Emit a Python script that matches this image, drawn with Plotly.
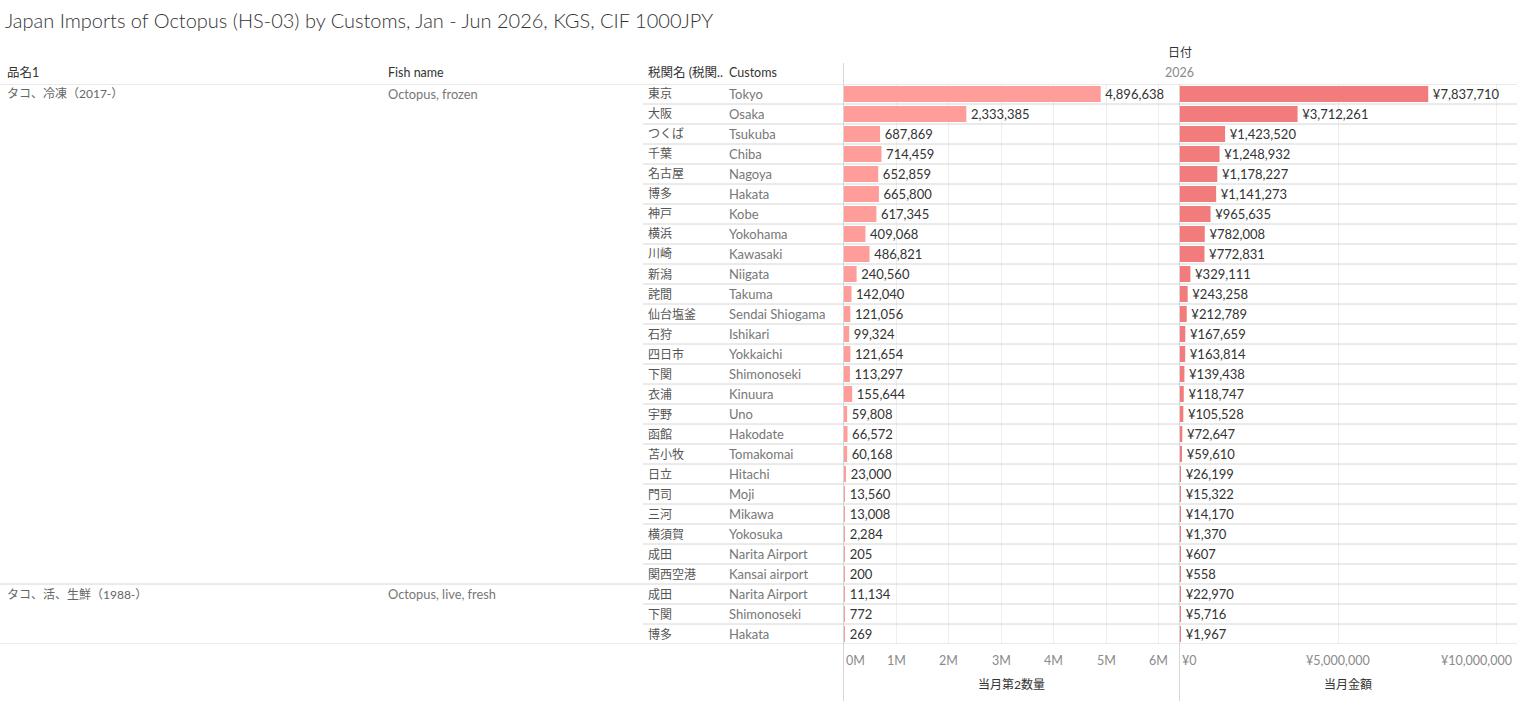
import plotly.graph_objects as go

# ---------------- data ----------------
groups = ["タコ、冷凍（2017-）"] * 25 + ["タコ、活、生鮮（1988-）"] * 3
fish_names = ["Octopus, frozen"] * 25 + ["Octopus, live, fresh"] * 3
customs_jp = ["東京", "大阪", "つくば", "千葉", "名古屋", "博多", "神戸", "横浜", "川崎", "新潟",
              "詫間", "仙台塩釜", "石狩", "四日市", "下関", "衣浦", "宇野", "函館", "苫小牧", "日立",
              "門司", "三河", "横須賀", "成田", "関西空港",
              "成田", "下関", "博多"]
customs_en = ["Tokyo", "Osaka", "Tsukuba", "Chiba", "Nagoya", "Hakata", "Kobe", "Yokohama", "Kawasaki", "Niigata",
              "Takuma", "Sendai Shiogama", "Ishikari", "Yokkaichi", "Shimonoseki", "Kinuura", "Uno", "Hakodate",
              "Tomakomai", "Hitachi", "Moji", "Mikawa", "Yokosuka", "Narita Airport", "Kansai airport",
              "Narita Airport", "Shimonoseki", "Hakata"]
quantity_kg = [4896638, 2333385, 687869, 714459, 652859, 665800, 617345, 409068, 486821, 240560,
               142040, 121056, 99324, 121654, 113297, 155644, 59808, 66572, 60168, 23000,
               13560, 13008, 2284, 205, 200,
               11134, 772, 269]
value_jpy = [7837710, 3712261, 1423520, 1248932, 1178227, 1141273, 965635, 782008, 772831, 329111,
             243258, 212789, 167659, 163814, 139438, 118747, 105528, 72647, 59610, 26199,
             15322, 14170, 1370, 607, 558,
             22970, 5716, 1967]
qty_ticks = [0, 1e6, 2e6, 3e6, 4e6, 5e6, 6e6]
qty_tick_labels = ["0M", "1M", "2M", "3M", "4M", "5M", "6M"]
val_ticks = [0, 5e6, 10e6]
val_tick_labels = ["¥0", "¥5,000,000", "¥10,000,000"]

title = "Japan Imports of Octopus (HS-03) by Customs, Jan - Jun 2026, KGS, CIF 1000JPY"
headers = ["品名1", "Fish name", "税関名 (税関..", "Customs"]

# ---------------- layout helpers ----------------
W, H = 1517, 701
FONT = "Lato, 'Noto Sans CJK JP', sans-serif"
TFONT = "'Lato Light', Lato, 'Noto Sans CJK JP', sans-serif"
def px(x):
    return x / W
def py(y):
    return 1 - y / H

rows = list(range(len(customs_jp)))
LINE = "#d6d6d6"

fig = go.Figure()
fig.add_trace(go.Bar(
    y=rows, x=quantity_kg, orientation="h", xaxis="x", yaxis="y",
    marker=dict(color="#FF9D9A", line=dict(width=0)),
    text=quantity_kg, texttemplate="\u2009%{x:,}", textposition="outside",
    textfont=dict(family=FONT, size=13, color="#333333"),
    constraintext="none", cliponaxis=False, hoverinfo="skip",
))
fig.add_trace(go.Bar(
    y=rows, x=value_jpy, orientation="h", xaxis="x2", yaxis="y",
    marker=dict(color="#F17C7B", line=dict(width=0)),
    text=value_jpy, texttemplate="\u2009¥%{x:,}", textposition="outside",
    textfont=dict(family=FONT, size=13, color="#333333"),
    constraintext="none", cliponaxis=False, hoverinfo="skip",
))

ann = []
# title
ann.append(dict(text=title, x=px(3), y=py(20), xref="paper", yref="paper",
                xanchor="left", yanchor="middle", showarrow=False,
                font=dict(family=TFONT, size=20, color="#333333", weight=300)))
# headers
for h, xp in zip(headers, [5, 386, 646, 727]):
    ann.append(dict(text=h, x=px(xp), y=py(73), xref="paper", yref="paper",
                    xanchor="left", yanchor="middle", showarrow=False,
                    font=dict(family=FONT, size=12.5, color="#333333")))
ann.append(dict(text="日付", x=px(1180), y=py(53), xref="paper", yref="paper",
                xanchor="center", yanchor="middle", showarrow=False,
                font=dict(family=FONT, size=12, color="#333333")))
ann.append(dict(text="2026", x=px(1179), y=py(73), xref="paper", yref="paper",
                xanchor="center", yanchor="middle", showarrow=False,
                font=dict(family=FONT, size=12.5, color="#8a8a8a")))
# row texts
prev = None
for i in rows:
    if groups[i] != prev:
        ann.append(dict(text=groups[i], x=px(5), y=i, xref="paper", yref="y",
                        xanchor="left", yanchor="middle", showarrow=False,
                        font=dict(family=FONT, size=12, color="#666666")))
        ann.append(dict(text=fish_names[i], x=px(386), y=i, xref="paper", yref="y",
                        xanchor="left", yanchor="middle", showarrow=False,
                        font=dict(family=FONT, size=12.8, color="#777777")))
        prev = groups[i]
    ann.append(dict(text=customs_jp[i], x=px(646), y=i, xref="paper", yref="y",
                    xanchor="left", yanchor="middle", showarrow=False,
                    font=dict(family=FONT, size=12, color="#555555")))
    ann.append(dict(text=customs_en[i], x=px(727), y=i, xref="paper", yref="y",
                    xanchor="left", yanchor="middle", showarrow=False,
                    font=dict(family=FONT, size=13, color="#777777")))
# axis tick labels
for k, (v, t) in enumerate(zip(qty_ticks, qty_tick_labels)):
    anchor = "left" if k == 0 else "center"
    ann.append(dict(text=t, x=v, y=py(660), xref="x", yref="paper",
                    xanchor=anchor, yanchor="middle", showarrow=False,
                    font=dict(family=FONT, size=12.5, color="#8a8a8a")))
for k, (v, t) in enumerate(zip(val_ticks, val_tick_labels)):
    anchor = "left" if k == 0 else ("right" if k == len(val_ticks) - 1 else "center")
    shift = 0 if k == 0 else (17 if k == len(val_ticks) - 1 else 0)
    ann.append(dict(text=t, x=v, y=py(660), xref="x2", yref="paper",
                    xanchor=anchor, yanchor="middle", showarrow=False, xshift=shift,
                    font=dict(family=FONT, size=12.5, color="#8a8a8a")))
# axis titles
ann.append(dict(text="当月第2数量", x=px(1011), y=py(684), xref="paper", yref="paper",
                xanchor="center", yanchor="middle", showarrow=False,
                font=dict(family=FONT, size=12, color="#333333")))
ann.append(dict(text="当月金額", x=px(1348), y=py(684), xref="paper", yref="paper",
                xanchor="center", yanchor="middle", showarrow=False,
                font=dict(family=FONT, size=12, color="#333333")))

shapes = []
n = len(rows)
# header line and bottom line
shapes.append(dict(type="line", xref="paper", yref="y", x0=0, x1=1, y0=-0.5, y1=-0.5,
                   line=dict(color=LINE, width=1)))
shapes.append(dict(type="line", xref="paper", yref="y", x0=0, x1=1, y0=n - 0.5, y1=n - 0.5,
                   line=dict(color=LINE, width=1)))
for i in range(1, n):
    x0 = 0 if groups[i] != groups[i - 1] else px(643)
    shapes.append(dict(type="line", xref="paper", yref="y", x0=x0, x1=1, y0=i - 0.5, y1=i - 0.5,
                       line=dict(color=LINE, width=1)))
# vertical panel lines
shapes.append(dict(type="line", xref="paper", yref="paper", x0=px(843.5), x1=px(843.5),
                   y0=py(63), y1=0, line=dict(color=LINE, width=1)))
shapes.append(dict(type="line", xref="paper", yref="paper", x0=px(1179.5), x1=px(1179.5),
                   y0=py(84), y1=0, line=dict(color=LINE, width=1)))

fig.update_layout(
    width=W, height=H, margin=dict(l=0, r=0, t=0, b=0),
    paper_bgcolor="white", plot_bgcolor="white",
    showlegend=False, bargap=0.2,
    font=dict(family=FONT, size=12, color="#333333"),
    xaxis=dict(domain=[px(844), px(1179)], range=[0, 6.39e6], anchor="y",
               showgrid=True, gridcolor="#eeeeee", gridwidth=1, tickvals=qty_ticks,
               showticklabels=False, zeroline=False, showline=False, ticks=""),
    xaxis2=dict(domain=[px(1180), 1.0], range=[0, 10.64e6], anchor="y",
                showgrid=True, gridcolor="#eeeeee", gridwidth=1, tickvals=val_ticks,
                showticklabels=False, zeroline=False, showline=False, ticks=""),
    yaxis=dict(domain=[py(644), py(84)], range=[n - 0.5, -0.5], showgrid=False,
               showticklabels=False, zeroline=False, showline=False, ticks=""),
    annotations=ann, shapes=shapes,
)

fig.write_html("out.html", config={"displayModeBar": False},
               post_script="document.body.style.margin='0';document.body.style.overflow='hidden';")
